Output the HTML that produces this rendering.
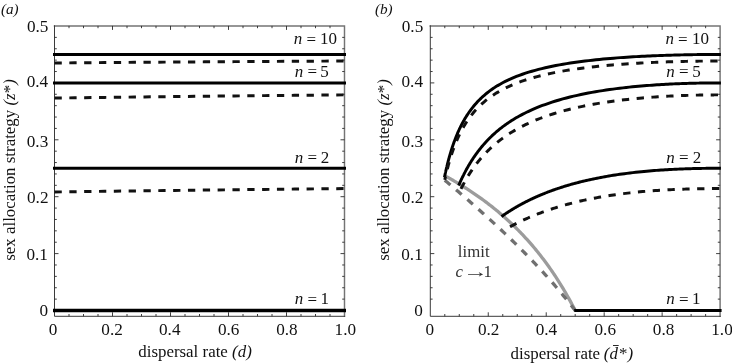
<!DOCTYPE html>
<html><head><meta charset="utf-8"><title>figure</title>
<style>html,body{margin:0;padding:0;background:#fff;}body{width:732px;height:364px;overflow:hidden;position:relative}</style></head>
<body>
<svg width="732" height="364" viewBox="0 0 732 364" style="position:absolute;left:0;top:0">
<rect width="732" height="364" fill="#fff"/>
<path d="M54.50,25.9H344.50V316.3" fill="none" stroke="#747474" stroke-width="1.45" stroke-linecap="square"/>
<path d="M54.50,25.299999999999997V316.3H345.10" fill="none" stroke="#3a3a3a" stroke-width="1.0"/>
<path d="M69.00,316.3v-2.3M69.00,25.9v2.3M83.50,316.3v-2.3M83.50,25.9v2.3M98.00,316.3v-2.3M98.00,25.9v2.3M112.50,316.3v-4.0M112.50,25.9v4.0M127.00,316.3v-2.3M127.00,25.9v2.3M141.50,316.3v-2.3M141.50,25.9v2.3M156.00,316.3v-2.3M156.00,25.9v2.3M170.50,316.3v-4.0M170.50,25.9v4.0M185.00,316.3v-2.3M185.00,25.9v2.3M199.50,316.3v-2.3M199.50,25.9v2.3M214.00,316.3v-2.3M214.00,25.9v2.3M228.50,316.3v-4.0M228.50,25.9v4.0M243.00,316.3v-2.3M243.00,25.9v2.3M257.50,316.3v-2.3M257.50,25.9v2.3M272.00,316.3v-2.3M272.00,25.9v2.3M286.50,316.3v-4.0M286.50,25.9v4.0M301.00,316.3v-2.3M301.00,25.9v2.3M315.50,316.3v-2.3M315.50,25.9v2.3M330.00,316.3v-2.3M330.00,25.9v2.3M54.50,299.12h2.3M344.50,299.12h-2.3M54.50,287.74h2.3M344.50,287.74h-2.3M54.50,276.36h2.3M344.50,276.36h-2.3M54.50,264.98h2.3M344.50,264.98h-2.3M54.50,253.60h4.0M344.50,253.60h-4.0M54.50,242.22h2.3M344.50,242.22h-2.3M54.50,230.84h2.3M344.50,230.84h-2.3M54.50,219.46h2.3M344.50,219.46h-2.3M54.50,208.08h2.3M344.50,208.08h-2.3M54.50,196.70h4.0M344.50,196.70h-4.0M54.50,185.32h2.3M344.50,185.32h-2.3M54.50,173.94h2.3M344.50,173.94h-2.3M54.50,162.56h2.3M344.50,162.56h-2.3M54.50,151.18h2.3M344.50,151.18h-2.3M54.50,139.80h4.0M344.50,139.80h-4.0M54.50,128.42h2.3M344.50,128.42h-2.3M54.50,117.04h2.3M344.50,117.04h-2.3M54.50,105.66h2.3M344.50,105.66h-2.3M54.50,94.28h2.3M344.50,94.28h-2.3M54.50,82.90h4.0M344.50,82.90h-4.0M54.50,71.52h2.3M344.50,71.52h-2.3M54.50,60.14h2.3M344.50,60.14h-2.3M54.50,48.76h2.3M344.50,48.76h-2.3M54.50,37.38h2.3M344.50,37.38h-2.3" stroke="#2a2a2a" stroke-width="0.9" fill="none"/>
<path d="M430.30,25.9H720.10V316.3" fill="none" stroke="#747474" stroke-width="1.45" stroke-linecap="square"/>
<path d="M430.30,25.299999999999997V316.3H720.70" fill="none" stroke="#3a3a3a" stroke-width="1.0"/>
<path d="M444.79,316.3v-2.3M444.79,25.9v2.3M459.28,316.3v-2.3M459.28,25.9v2.3M473.77,316.3v-2.3M473.77,25.9v2.3M488.26,316.3v-4.0M488.26,25.9v4.0M502.75,316.3v-2.3M502.75,25.9v2.3M517.24,316.3v-2.3M517.24,25.9v2.3M531.73,316.3v-2.3M531.73,25.9v2.3M546.22,316.3v-4.0M546.22,25.9v4.0M560.71,316.3v-2.3M560.71,25.9v2.3M575.20,316.3v-2.3M575.20,25.9v2.3M589.69,316.3v-2.3M589.69,25.9v2.3M604.18,316.3v-4.0M604.18,25.9v4.0M618.67,316.3v-2.3M618.67,25.9v2.3M633.16,316.3v-2.3M633.16,25.9v2.3M647.65,316.3v-2.3M647.65,25.9v2.3M662.14,316.3v-4.0M662.14,25.9v4.0M676.63,316.3v-2.3M676.63,25.9v2.3M691.12,316.3v-2.3M691.12,25.9v2.3M705.61,316.3v-2.3M705.61,25.9v2.3M430.30,299.12h2.3M720.10,299.12h-2.3M430.30,287.74h2.3M720.10,287.74h-2.3M430.30,276.36h2.3M720.10,276.36h-2.3M430.30,264.98h2.3M720.10,264.98h-2.3M430.30,253.60h4.0M720.10,253.60h-4.0M430.30,242.22h2.3M720.10,242.22h-2.3M430.30,230.84h2.3M720.10,230.84h-2.3M430.30,219.46h2.3M720.10,219.46h-2.3M430.30,208.08h2.3M720.10,208.08h-2.3M430.30,196.70h4.0M720.10,196.70h-4.0M430.30,185.32h2.3M720.10,185.32h-2.3M430.30,173.94h2.3M720.10,173.94h-2.3M430.30,162.56h2.3M720.10,162.56h-2.3M430.30,151.18h2.3M720.10,151.18h-2.3M430.30,139.80h4.0M720.10,139.80h-4.0M430.30,128.42h2.3M720.10,128.42h-2.3M430.30,117.04h2.3M720.10,117.04h-2.3M430.30,105.66h2.3M720.10,105.66h-2.3M430.30,94.28h2.3M720.10,94.28h-2.3M430.30,82.90h4.0M720.10,82.90h-4.0M430.30,71.52h2.3M720.10,71.52h-2.3M430.30,60.14h2.3M720.10,60.14h-2.3M430.30,48.76h2.3M720.10,48.76h-2.3M430.30,37.38h2.3M720.10,37.38h-2.3" stroke="#2a2a2a" stroke-width="0.9" fill="none"/>
<path d="M53.00,54.45H346.00" stroke="#000" stroke-width="2.95" fill="none"/>
<path d="M54.50,62.98 L64.50,62.90 L74.50,62.81 L84.50,62.73 L94.50,62.65 L104.50,62.57 L114.50,62.49 L124.50,62.41 L134.50,62.33 L144.50,62.26 L154.50,62.18 L164.50,62.11 L174.50,62.04 L184.50,61.97 L194.50,61.91 L204.50,61.84 L214.50,61.77 L224.50,61.71 L234.50,61.65 L244.50,61.58 L254.50,61.52 L264.50,61.46 L274.50,61.40 L284.50,61.34 L294.50,61.29 L304.50,61.23 L314.50,61.18 L324.50,61.12 L334.50,61.07 L344.50,61.02" stroke="#111" stroke-width="2.95" stroke-dasharray="7.3 7.53" fill="none"/>
<path d="M53.00,82.90H346.00" stroke="#000" stroke-width="2.95" fill="none"/>
<path d="M54.50,98.07 L64.50,97.94 L74.50,97.80 L84.50,97.67 L94.50,97.54 L104.50,97.41 L114.50,97.28 L124.50,97.16 L134.50,97.03 L144.50,96.91 L154.50,96.80 L164.50,96.68 L174.50,96.57 L184.50,96.45 L194.50,96.34 L204.50,96.23 L214.50,96.13 L224.50,96.02 L234.50,95.92 L244.50,95.82 L254.50,95.72 L264.50,95.62 L274.50,95.52 L284.50,95.42 L294.50,95.33 L304.50,95.24 L314.50,95.15 L324.50,95.06 L334.50,94.97 L344.50,94.88" stroke="#111" stroke-width="2.95" stroke-dasharray="7.3 7.53" fill="none"/>
<path d="M53.00,168.25H346.00" stroke="#000" stroke-width="2.95" fill="none"/>
<path d="M54.50,191.96 L64.50,191.82 L74.50,191.69 L84.50,191.56 L94.50,191.43 L104.50,191.30 L114.50,191.17 L124.50,191.04 L134.50,190.92 L144.50,190.79 L154.50,190.67 L164.50,190.55 L174.50,190.43 L184.50,190.31 L194.50,190.19 L204.50,190.08 L214.50,189.96 L224.50,189.85 L234.50,189.74 L244.50,189.62 L254.50,189.51 L264.50,189.41 L274.50,189.30 L284.50,189.19 L294.50,189.08 L304.50,188.98 L314.50,188.88 L324.50,188.77 L334.50,188.67 L344.50,188.57" stroke="#111" stroke-width="2.95" stroke-dasharray="7.3 7.53" fill="none"/>
<path d="M53.00,310.50H346.00" stroke="#000" stroke-width="3.3" fill="none"/>
<path d="M444.79,175.74 L445.89,176.34 L446.98,176.94 L448.08,177.55 L449.17,178.16 L450.27,178.78 L451.37,179.40 L452.46,180.03 L453.56,180.66 L454.65,181.30 L455.75,181.94 L456.84,182.59 L457.94,183.25 L459.04,183.91 L460.13,184.57 L461.23,185.25 L462.32,185.92 L463.42,186.60 L464.52,187.29 L465.61,187.99 L466.71,188.69 L467.80,189.40 L468.90,190.11 L470.00,190.83 L471.09,191.55 L472.19,192.28 L473.28,193.02 L474.38,193.77 L475.47,194.52 L476.57,195.28 L477.67,196.04 L478.76,196.81 L479.86,197.59 L480.95,198.38 L482.05,199.17 L483.15,199.97 L484.24,200.78 L485.34,201.60 L486.43,202.42 L487.53,203.25 L488.63,204.09 L489.72,204.94 L490.82,205.80 L491.91,206.66 L493.01,207.53 L494.10,208.41 L495.20,209.30 L496.30,210.20 L497.39,211.10 L498.49,212.02 L499.58,212.94 L500.68,213.88 L501.78,214.82 L502.87,215.77 L503.97,216.74 L505.06,217.71 L506.16,218.69 L507.26,219.68 L508.35,220.68 L509.45,221.70 L510.54,222.72 L511.64,223.75 L512.73,224.80 L513.83,225.86 L514.93,226.92 L516.02,228.00 L517.12,229.09 L518.21,230.19 L519.31,231.31 L520.41,232.44 L521.50,233.58 L522.60,234.73 L523.69,235.89 L524.79,237.07 L525.89,238.26 L526.98,239.46 L528.08,240.68 L529.17,241.92 L530.27,243.16 L531.36,244.42 L532.46,245.70 L533.56,246.99 L534.65,248.29 L535.75,249.62 L536.84,250.95 L537.94,252.31 L539.04,253.68 L540.13,255.06 L541.23,256.47 L542.32,257.89 L543.42,259.33 L544.52,260.78 L545.61,262.26 L546.71,263.75 L547.80,265.26 L548.90,266.79 L549.99,268.34 L551.09,269.92 L552.19,271.51 L553.28,273.12 L554.38,274.75 L555.47,276.41 L556.57,278.09 L557.67,279.79 L558.76,281.51 L559.86,283.26 L560.95,285.03 L562.05,286.83 L563.15,288.65 L564.24,290.50 L565.34,292.37 L566.43,294.27 L567.53,296.20 L568.62,298.15 L569.72,300.13 L570.82,302.15 L571.91,304.19 L573.01,306.26 L574.10,308.36 L575.20,310.50" stroke="#9c9c9c" stroke-width="3.3" fill="none"/>
<path d="M444.79,180.23 L445.89,181.15 L446.98,182.06 L448.08,182.98 L449.17,183.91 L450.27,184.83 L451.37,185.75 L452.46,186.68 L453.56,187.61 L454.65,188.54 L455.75,189.47 L456.84,190.40 L457.94,191.34 L459.04,192.28 L460.13,193.22 L461.23,194.16 L462.32,195.10 L463.42,196.04 L464.52,196.99 L465.61,197.94 L466.71,198.89 L467.80,199.84 L468.90,200.80 L470.00,201.76 L471.09,202.71 L472.19,203.68 L473.28,204.64 L474.38,205.60 L475.47,206.57 L476.57,207.54 L477.67,208.51 L478.76,209.49 L479.86,210.47 L480.95,211.45 L482.05,212.43 L483.15,213.41 L484.24,214.40 L485.34,215.39 L486.43,216.38 L487.53,217.37 L488.63,218.37 L489.72,219.37 L490.82,220.37 L491.91,221.38 L493.01,222.38 L494.10,223.40 L495.20,224.41 L496.30,225.43 L497.39,226.44 L498.49,227.47 L499.58,228.49 L500.68,229.52 L501.78,230.55 L502.87,231.59 L503.97,232.63 L505.06,233.67 L506.16,234.71 L507.26,235.76 L508.35,236.81 L509.45,237.87 L510.54,238.92 L511.64,239.99 L512.73,241.05 L513.83,242.12 L514.93,243.19 L516.02,244.27 L517.12,245.35 L518.21,246.44 L519.31,247.52 L520.41,248.62 L521.50,249.71 L522.60,250.82 L523.69,251.92 L524.79,253.03 L525.89,254.14 L526.98,255.26 L528.08,256.39 L529.17,257.51 L530.27,258.65 L531.36,259.79 L532.46,260.93 L533.56,262.08 L534.65,263.23 L535.75,264.39 L536.84,265.55 L537.94,266.72 L539.04,267.89 L540.13,269.07 L541.23,270.25 L542.32,271.45 L543.42,272.64 L544.52,273.84 L545.61,275.05 L546.71,276.27 L547.80,277.49 L548.90,278.72 L549.99,279.95 L551.09,281.19 L552.19,282.44 L553.28,283.70 L554.38,284.96 L555.47,286.23 L556.57,287.50 L557.67,288.79 L558.76,290.08 L559.86,291.38 L560.95,292.69 L562.05,294.00 L563.15,295.33 L564.24,296.66 L565.34,298.00 L566.43,299.35 L567.53,300.71 L568.62,302.08 L569.72,303.46 L570.82,304.85 L571.91,306.24 L573.01,307.65 L574.10,309.07 L575.20,310.50" stroke="#707070" stroke-width="3.3" stroke-dasharray="7.3 7.53" fill="none"/>
<path d="M444.46,177.30 L444.79,175.74 L444.89,175.28 L444.98,174.83 L445.08,174.37 L445.18,173.91 L445.28,173.44 L445.38,172.97 L445.49,172.50 L445.59,172.02 L445.70,171.55 L445.80,171.06 L445.91,170.58 L446.03,170.09 L446.14,169.60 L446.25,169.10 L446.37,168.60 L446.48,168.10 L446.60,167.59 L446.73,167.09 L446.85,166.57 L446.97,166.06 L447.10,165.53 L447.23,165.01 L447.36,164.48 L447.49,163.95 L447.62,163.41 L447.76,162.87 L447.90,162.33 L448.04,161.78 L448.18,161.23 L448.33,160.68 L448.48,160.12 L448.63,159.55 L448.78,158.98 L448.94,158.41 L449.10,157.83 L449.26,157.25 L449.42,156.67 L449.59,156.08 L449.76,155.48 L449.93,154.88 L450.10,154.28 L450.28,153.67 L450.46,153.06 L450.65,152.44 L450.84,151.81 L451.03,151.19 L451.23,150.55 L451.43,149.92 L451.63,149.27 L451.84,148.63 L452.05,147.97 L452.26,147.31 L452.48,146.65 L452.71,145.98 L452.94,145.31 L453.17,144.63 L453.41,143.94 L453.65,143.25 L453.90,142.55 L454.15,141.85 L454.41,141.14 L454.68,140.43 L454.95,139.71 L455.23,138.98 L455.51,138.25 L455.80,137.51 L456.10,136.76 L456.40,136.01 L456.71,135.25 L457.03,134.49 L457.36,133.72 L457.69,132.94 L458.03,132.15 L458.38,131.36 L458.75,130.56 L459.11,129.76 L459.49,128.95 L459.88,128.13 L460.28,127.30 L460.69,126.46 L461.12,125.62 L461.55,124.77 L462.00,123.92 L462.45,123.05 L462.93,122.18 L463.41,121.30 L463.92,120.41 L464.43,119.51 L464.96,118.61 L465.51,117.69 L466.08,116.77 L466.67,115.84 L467.27,114.90 L467.90,113.95 L468.54,113.00 L469.21,112.03 L469.91,111.05 L470.62,110.07 L471.37,109.08 L472.14,108.07 L472.94,107.06 L473.77,106.04 L474.64,105.01 L475.54,103.97 L476.48,102.91 L477.45,101.85 L478.47,100.78 L479.53,99.70 L480.65,98.61 L481.81,97.51 L483.02,96.39 L484.30,95.27 L485.63,94.14 L487.03,92.99 L488.51,91.84 L490.06,90.67 L491.70,89.50 L493.42,88.31 L495.25,87.11 L495.25,87.11 L497.65,85.62 L500.13,84.17 L502.67,82.77 L505.28,81.42 L507.97,80.11 L510.72,78.85 L513.55,77.63 L516.44,76.46 L519.40,75.33 L522.42,74.24 L525.51,73.20 L528.66,72.20 L531.88,71.23 L535.15,70.31 L538.47,69.43 L541.85,68.58 L545.28,67.77 L548.76,66.99 L552.27,66.26 L555.83,65.55 L559.41,64.88 L563.03,64.24 L566.66,63.63 L570.32,63.06 L573.99,62.51 L577.66,61.99 L581.34,61.50 L585.01,61.04 L588.67,60.60 L592.32,60.19 L595.95,59.80 L599.55,59.43 L603.12,59.09 L606.65,58.76 L610.14,58.46 L613.59,58.17 L616.98,57.90 L620.32,57.65 L623.61,57.42 L626.83,57.20 L629.99,57.00 L633.08,56.81 L636.10,56.63 L639.06,56.47 L641.94,56.32 L644.74,56.17 L647.48,56.04 L650.13,55.92 L652.72,55.81 L655.22,55.70 L657.66,55.60 L660.01,55.51 L662.30,55.43 L664.51,55.35 L666.65,55.28 L668.71,55.22 L670.71,55.16 L672.64,55.10 L674.50,55.05 L676.29,55.00 L678.02,54.96 L679.69,54.92 L681.30,54.88 L682.85,54.85 L684.34,54.81 L685.77,54.78 L687.15,54.76 L688.48,54.73 L689.75,54.71 L690.98,54.69 L692.16,54.67 L693.30,54.65 L694.39,54.64 L695.43,54.62 L696.44,54.61 L697.40,54.59 L698.33,54.58 L699.22,54.57 L700.08,54.56 L700.90,54.55 L701.69,54.54 L702.44,54.54 L703.17,54.53 L703.86,54.52 L704.53,54.52 L705.17,54.51 L705.79,54.51 L706.38,54.50 L706.94,54.50 L707.49,54.49 L708.01,54.49 L708.51,54.49 L708.99,54.48 L709.45,54.48 L709.89,54.48 L710.31,54.48 L710.71,54.47 L711.10,54.47 L711.47,54.47 L711.83,54.47 L712.17,54.47 L712.50,54.47 L712.82,54.46 L713.12,54.46 L713.41,54.46 L713.69,54.46 L713.95,54.46 L714.21,54.46 L714.45,54.46 L714.68,54.46 L714.91,54.46 L715.12,54.46 L715.33,54.46 L715.53,54.46 L715.72,54.46 L715.90,54.45 L716.07,54.45 L716.24,54.45 L716.40,54.45 L716.56,54.45 L716.70,54.45 L716.84,54.45 L716.98,54.45 L717.11,54.45 L717.23,54.45 L717.35,54.45 L717.47,54.45 L717.58,54.45 L717.68,54.45 L717.78,54.45 L717.88,54.45 L717.97,54.45 L718.06,54.45 L718.14,54.45 L718.22,54.45 L718.30,54.45 L718.38,54.45 L718.45,54.45 L718.52,54.45 L718.58,54.45 L718.65,54.45 L718.71,54.45 L718.76,54.45 L718.82,54.45 L718.87,54.45 L718.92,54.45 L718.97,54.45 L719.02,54.45 L719.06,54.45 L719.11,54.45 L719.15,54.45 L719.19,54.45 L719.23,54.45 L719.26,54.45 L719.30,54.45 L719.33,54.45 L719.36,54.45 L719.39,54.45 L719.42,54.45 L719.45,54.45 L719.48,54.45 L719.50,54.45 L719.53,54.45 L719.55,54.45 L719.57,54.45 L719.60,54.45 L719.62,54.45 L719.64,54.45 L719.66,54.45 L719.68,54.45 L719.69,54.45 L719.71,54.45 L719.73,54.45 L719.74,54.45 L719.76,54.45 L719.77,54.45 L719.78,54.45 L719.80,54.45 L719.81,54.45 L720.10,54.45 L720.90,54.45" stroke="#000" stroke-width="2.95" stroke-linejoin="round" fill="none"/>
<path d="M458.64,185.52 L459.28,184.06 L459.47,183.63 L459.65,183.21 L459.84,182.78 L460.04,182.35 L460.23,181.92 L460.43,181.49 L460.63,181.05 L460.83,180.61 L461.04,180.16 L461.24,179.72 L461.46,179.27 L461.67,178.81 L461.89,178.36 L462.11,177.90 L462.33,177.43 L462.56,176.97 L462.79,176.50 L463.02,176.03 L463.25,175.55 L463.49,175.07 L463.74,174.59 L463.98,174.10 L464.23,173.62 L464.49,173.12 L464.74,172.63 L465.01,172.13 L465.27,171.62 L465.54,171.12 L465.81,170.61 L466.09,170.09 L466.38,169.58 L466.66,169.05 L466.95,168.53 L467.25,168.00 L467.55,167.47 L467.86,166.93 L468.17,166.39 L468.48,165.85 L468.80,165.30 L469.13,164.74 L469.46,164.19 L469.80,163.63 L470.15,163.06 L470.50,162.49 L470.85,161.92 L471.21,161.34 L471.58,160.76 L471.96,160.17 L472.34,159.58 L472.73,158.98 L473.13,158.38 L473.53,157.78 L473.94,157.17 L474.36,156.55 L474.79,155.93 L475.23,155.31 L475.67,154.68 L476.12,154.05 L476.59,153.41 L477.06,152.77 L477.54,152.12 L478.03,151.46 L478.53,150.81 L479.04,150.14 L479.57,149.47 L480.10,148.80 L480.65,148.12 L481.20,147.43 L481.77,146.74 L482.36,146.04 L482.95,145.34 L483.56,144.64 L484.19,143.92 L484.83,143.20 L485.48,142.48 L486.15,141.75 L486.83,141.01 L487.54,140.27 L488.26,139.52 L488.99,138.77 L489.75,138.01 L490.53,137.24 L491.32,136.47 L492.14,135.69 L492.98,134.90 L493.84,134.11 L494.72,133.31 L495.63,132.51 L496.57,131.70 L497.53,130.88 L498.52,130.06 L499.54,129.23 L500.59,128.39 L501.67,127.55 L502.78,126.70 L503.93,125.85 L505.11,124.98 L506.33,124.11 L507.59,123.24 L508.90,122.36 L510.24,121.47 L511.63,120.57 L513.07,119.67 L514.56,118.77 L516.10,117.85 L517.69,116.93 L519.35,116.01 L521.06,115.08 L522.84,114.14 L524.69,113.20 L526.61,112.25 L528.60,111.30 L530.68,110.34 L532.84,109.38 L535.09,108.41 L537.43,107.44 L539.87,106.47 L542.42,105.49 L545.09,104.52 L545.09,104.52 L548.55,103.30 L552.05,102.14 L555.58,101.03 L559.15,99.97 L562.75,98.95 L566.37,97.98 L570.00,97.05 L573.65,96.17 L577.30,95.34 L580.96,94.54 L584.61,93.79 L588.25,93.07 L591.88,92.40 L595.48,91.76 L599.06,91.16 L602.61,90.59 L606.12,90.06 L609.59,89.56 L613.01,89.09 L616.39,88.65 L619.71,88.24 L622.98,87.85 L626.19,87.49 L629.33,87.15 L632.41,86.84 L635.42,86.54 L638.36,86.27 L641.23,86.01 L644.03,85.78 L646.75,85.56 L649.41,85.36 L651.99,85.17 L654.49,84.99 L656.92,84.83 L659.28,84.68 L661.56,84.54 L663.78,84.41 L665.92,84.29 L667.99,84.18 L669.99,84.08 L671.93,83.99 L673.80,83.90 L675.60,83.82 L677.34,83.75 L679.02,83.68 L680.64,83.62 L682.20,83.56 L683.70,83.51 L685.15,83.46 L686.54,83.41 L687.88,83.37 L689.17,83.33 L690.41,83.30 L691.60,83.27 L692.75,83.24 L693.86,83.21 L694.92,83.19 L695.94,83.16 L696.92,83.14 L697.86,83.12 L698.76,83.10 L699.63,83.09 L700.47,83.07 L701.27,83.06 L702.04,83.05 L702.77,83.03 L703.48,83.02 L704.16,83.01 L704.82,83.00 L705.44,83.00 L706.04,82.99 L706.62,82.98 L707.18,82.97 L707.71,82.97 L708.22,82.96 L708.71,82.96 L709.18,82.95 L709.63,82.95 L710.06,82.94 L710.47,82.94 L710.87,82.94 L711.25,82.93 L711.61,82.93 L711.97,82.93 L712.30,82.93 L712.62,82.92 L712.93,82.92 L713.23,82.92 L713.51,82.92 L713.79,82.92 L714.05,82.92 L714.30,82.91 L714.54,82.91 L714.77,82.91 L714.99,82.91 L715.20,82.91 L715.40,82.91 L715.60,82.91 L715.78,82.91 L715.96,82.91 L716.13,82.91 L716.30,82.91 L716.46,82.91 L716.61,82.91 L716.75,82.90 L716.89,82.90 L717.02,82.90 L717.15,82.90 L717.27,82.90 L717.39,82.90 L717.50,82.90 L717.61,82.90 L717.72,82.90 L717.81,82.90 L717.91,82.90 L718.00,82.90 L718.09,82.90 L718.17,82.90 L718.25,82.90 L718.33,82.90 L718.40,82.90 L718.47,82.90 L718.54,82.90 L718.60,82.90 L718.67,82.90 L718.73,82.90 L718.78,82.90 L718.84,82.90 L718.89,82.90 L718.94,82.90 L718.99,82.90 L719.03,82.90 L719.08,82.90 L719.12,82.90 L719.16,82.90 L719.20,82.90 L719.24,82.90 L719.27,82.90 L719.31,82.90 L719.34,82.90 L719.37,82.90 L719.40,82.90 L719.43,82.90 L719.46,82.90 L719.49,82.90 L719.51,82.90 L719.54,82.90 L719.56,82.90 L719.58,82.90 L719.60,82.90 L719.62,82.90 L719.64,82.90 L719.66,82.90 L719.68,82.90 L719.70,82.90 L719.72,82.90 L719.73,82.90 L719.75,82.90 L719.76,82.90 L719.78,82.90 L719.79,82.90 L719.80,82.90 L719.81,82.90 L719.83,82.90 L719.84,82.90 L719.85,82.90 L719.86,82.90 L719.87,82.90 L719.88,82.90 L719.89,82.90 L719.90,82.90 L719.90,82.90 L719.91,82.90 L719.92,82.90 L719.93,82.90 L719.94,82.90 L719.94,82.90 L719.95,82.90 L719.96,82.90 L720.10,82.90 L720.90,82.90" stroke="#000" stroke-width="2.95" stroke-linejoin="round" fill="none"/>
<path d="M501.44,216.58 L502.75,215.67 L503.16,215.38 L503.57,215.10 L503.99,214.81 L504.41,214.52 L504.84,214.23 L505.27,213.94 L505.70,213.65 L506.14,213.35 L506.59,213.06 L507.04,212.76 L507.50,212.46 L507.96,212.16 L508.43,211.86 L508.90,211.55 L509.38,211.25 L509.86,210.94 L510.35,210.63 L510.85,210.32 L511.35,210.01 L511.86,209.69 L512.37,209.38 L512.89,209.06 L513.42,208.74 L513.95,208.42 L514.49,208.10 L515.04,207.78 L515.59,207.45 L516.15,207.13 L516.72,206.80 L517.29,206.47 L517.87,206.14 L518.46,205.80 L519.06,205.47 L519.66,205.13 L520.28,204.79 L520.90,204.46 L521.53,204.11 L522.16,203.77 L522.81,203.43 L523.46,203.08 L524.13,202.73 L524.80,202.38 L525.48,202.03 L526.17,201.68 L526.87,201.32 L527.58,200.97 L528.30,200.61 L529.03,200.25 L529.78,199.89 L530.53,199.53 L531.29,199.16 L532.06,198.80 L532.85,198.43 L533.64,198.06 L534.45,197.69 L535.27,197.32 L536.10,196.95 L536.95,196.57 L537.80,196.20 L538.67,195.82 L539.56,195.44 L540.45,195.06 L541.36,194.68 L542.29,194.30 L543.23,193.91 L544.18,193.53 L545.15,193.14 L546.13,192.75 L547.13,192.36 L548.15,191.97 L549.18,191.58 L550.23,191.19 L551.29,190.80 L552.37,190.40 L553.47,190.01 L554.59,189.61 L555.73,189.22 L556.88,188.82 L558.06,188.42 L559.25,188.03 L560.47,187.63 L561.70,187.23 L562.96,186.83 L564.24,186.43 L565.54,186.03 L566.86,185.63 L568.21,185.23 L569.58,184.83 L570.97,184.43 L572.39,184.04 L573.83,183.64 L575.30,183.24 L576.79,182.84 L578.32,182.45 L579.86,182.05 L581.44,181.66 L583.05,181.27 L584.68,180.88 L586.34,180.49 L588.04,180.10 L589.76,179.72 L591.52,179.33 L593.31,178.95 L595.13,178.57 L596.98,178.20 L598.87,177.83 L600.80,177.46 L602.76,177.09 L604.75,176.73 L606.78,176.37 L608.85,176.01 L610.96,175.66 L613.11,175.32 L615.30,174.98 L617.52,174.64 L619.79,174.31 L622.10,173.99 L624.45,173.67 L626.85,173.36 L626.85,173.36 L629.87,172.98 L632.83,172.63 L635.73,172.30 L638.56,171.99 L641.32,171.71 L644.02,171.44 L646.65,171.20 L649.21,170.97 L651.71,170.76 L654.13,170.57 L656.49,170.39 L658.78,170.22 L661.00,170.07 L663.16,169.92 L665.25,169.79 L667.27,169.67 L669.24,169.56 L671.14,169.45 L672.97,169.36 L674.75,169.27 L676.47,169.19 L678.13,169.11 L679.73,169.04 L681.28,168.98 L682.77,168.92 L684.21,168.87 L685.61,168.82 L686.95,168.77 L688.24,168.73 L689.49,168.69 L690.69,168.66 L691.84,168.62 L692.96,168.59 L694.03,168.56 L695.06,168.54 L696.06,168.52 L697.01,168.49 L697.93,168.47 L698.82,168.46 L699.67,168.44 L700.49,168.42 L701.27,168.41 L702.03,168.40 L702.76,168.39 L703.46,168.37 L704.13,168.36 L704.77,168.35 L705.39,168.35 L705.99,168.34 L706.56,168.33 L707.11,168.32 L707.64,168.32 L708.15,168.31 L708.63,168.31 L709.10,168.30 L709.55,168.30 L709.98,168.29 L710.39,168.29 L710.79,168.29 L711.17,168.28 L711.54,168.28 L711.89,168.28 L712.22,168.28 L712.55,168.27 L712.86,168.27 L713.15,168.27 L713.44,168.27 L713.71,168.27 L713.98,168.27 L714.23,168.26 L714.47,168.26 L714.70,168.26 L714.92,168.26 L715.14,168.26 L715.34,168.26 L715.54,168.26 L715.73,168.26 L715.91,168.26 L716.08,168.26 L716.25,168.26 L716.41,168.26 L716.56,168.26 L716.70,168.25 L716.84,168.25 L716.98,168.25 L717.11,168.25 L717.23,168.25 L717.35,168.25 L717.46,168.25 L717.57,168.25 L717.68,168.25 L717.78,168.25 L717.87,168.25 L717.97,168.25 L718.06,168.25 L718.14,168.25 L718.22,168.25 L718.30,168.25 L718.37,168.25 L718.45,168.25 L718.51,168.25 L718.58,168.25 L718.64,168.25 L718.70,168.25 L718.76,168.25 L718.82,168.25 L718.87,168.25 L718.92,168.25 L718.97,168.25 L719.02,168.25 L719.06,168.25 L719.10,168.25 L719.15,168.25 L719.19,168.25 L719.22,168.25 L719.26,168.25 L719.29,168.25 L719.33,168.25 L719.36,168.25 L719.39,168.25 L719.42,168.25 L719.45,168.25 L719.48,168.25 L719.50,168.25 L719.53,168.25 L719.55,168.25 L719.57,168.25 L719.60,168.25 L719.62,168.25 L719.64,168.25 L719.66,168.25 L719.67,168.25 L719.69,168.25 L719.71,168.25 L719.72,168.25 L719.74,168.25 L719.76,168.25 L719.77,168.25 L719.78,168.25 L719.80,168.25 L719.81,168.25 L719.82,168.25 L719.83,168.25 L719.84,168.25 L719.85,168.25 L719.86,168.25 L719.87,168.25 L719.88,168.25 L719.89,168.25 L719.90,168.25 L719.91,168.25 L719.92,168.25 L719.93,168.25 L719.93,168.25 L719.94,168.25 L719.95,168.25 L719.95,168.25 L719.96,168.25 L719.96,168.25 L719.97,168.25 L719.98,168.25 L719.98,168.25 L719.99,168.25 L719.99,168.25 L719.99,168.25 L720.00,168.25 L720.00,168.25 L720.01,168.25 L720.01,168.25 L720.02,168.25 L720.02,168.25 L720.02,168.25 L720.03,168.25 L720.03,168.25 L720.03,168.25 L720.03,168.25 L720.04,168.25 L720.04,168.25 L720.04,168.25 L720.10,168.25 L720.90,168.25" stroke="#000" stroke-width="2.95" stroke-linejoin="round" fill="none"/>
<path d="M444.77,179.90 L445.16,178.14 L445.26,177.70 L445.36,177.26 L445.46,176.82 L445.56,176.37 L445.66,175.92 L445.77,175.46 L445.87,175.01 L445.98,174.55 L446.09,174.09 L446.20,173.62 L446.31,173.15 L446.43,172.68 L446.54,172.21 L446.66,171.73 L446.78,171.24 L446.90,170.76 L447.02,170.27 L447.14,169.78 L447.27,169.28 L447.40,168.78 L447.53,168.28 L447.66,167.78 L447.79,167.27 L447.93,166.75 L448.07,166.24 L448.21,165.71 L448.35,165.19 L448.49,164.66 L448.64,164.13 L448.79,163.59 L448.94,163.05 L449.09,162.51 L449.25,161.96 L449.41,161.41 L449.57,160.85 L449.74,160.29 L449.91,159.73 L450.08,159.16 L450.25,158.59 L450.43,158.01 L450.61,157.43 L450.79,156.84 L450.97,156.25 L451.16,155.65 L451.36,155.05 L451.55,154.45 L451.76,153.84 L451.96,153.23 L452.17,152.61 L452.38,151.98 L452.60,151.35 L452.82,150.72 L453.04,150.08 L453.27,149.44 L453.51,148.79 L453.75,148.13 L453.99,147.47 L454.24,146.81 L454.49,146.14 L454.75,145.46 L455.02,144.78 L455.29,144.09 L455.57,143.40 L455.85,142.70 L456.14,142.00 L456.44,141.29 L456.74,140.57 L457.05,139.85 L457.37,139.12 L457.70,138.39 L458.03,137.65 L458.37,136.90 L458.73,136.14 L459.08,135.38 L459.45,134.62 L459.83,133.84 L460.22,133.06 L460.62,132.28 L461.03,131.48 L461.45,130.68 L461.88,129.87 L462.32,129.06 L462.78,128.23 L463.25,127.40 L463.73,126.57 L464.23,125.72 L464.74,124.87 L465.27,124.01 L465.81,123.14 L466.38,122.26 L466.96,121.38 L467.55,120.48 L468.17,119.58 L468.81,118.67 L469.47,117.75 L470.16,116.82 L470.87,115.89 L471.60,114.94 L472.36,113.99 L473.15,113.03 L473.97,112.06 L474.82,111.07 L475.70,110.08 L476.62,109.08 L477.58,108.07 L478.57,107.05 L479.61,106.02 L480.70,104.98 L481.83,103.93 L483.02,102.87 L484.25,101.81 L485.55,100.72 L486.92,99.63 L488.35,98.53 L489.85,97.42 L491.43,96.30 L493.10,95.17 L494.85,94.02 L496.71,92.87 L496.71,92.87 L499.16,91.43 L501.67,90.03 L504.26,88.68 L506.92,87.37 L509.65,86.11 L512.44,84.89 L515.31,83.71 L518.24,82.57 L521.24,81.48 L524.30,80.42 L527.43,79.41 L530.62,78.43 L533.87,77.50 L537.18,76.60 L540.54,75.73 L543.95,74.91 L547.40,74.12 L550.90,73.36 L554.44,72.64 L558.01,71.95 L561.62,71.29 L565.25,70.67 L568.89,70.07 L572.56,69.50 L576.23,68.97 L579.91,68.46 L583.58,67.97 L587.25,67.52 L590.90,67.09 L594.53,66.68 L598.15,66.30 L601.73,65.93 L605.27,65.59 L608.78,65.27 L612.24,64.97 L615.66,64.69 L619.02,64.43 L622.33,64.18 L625.57,63.95 L628.76,63.74 L631.87,63.53 L634.92,63.35 L637.90,63.17 L640.81,63.01 L643.65,62.86 L646.41,62.72 L649.10,62.59 L651.71,62.47 L654.24,62.36 L656.71,62.25 L659.09,62.16 L661.40,62.07 L663.64,61.99 L665.81,61.91 L667.90,61.84 L669.93,61.77 L671.88,61.71 L673.77,61.66 L675.59,61.61 L677.34,61.56 L679.04,61.52 L680.67,61.48 L682.24,61.44 L683.75,61.41 L685.21,61.37 L686.61,61.35 L687.95,61.32 L689.25,61.29 L690.50,61.27 L691.70,61.25 L692.85,61.23 L693.96,61.21 L695.02,61.20 L696.04,61.18 L697.02,61.17 L697.97,61.16 L698.87,61.15 L699.74,61.14 L700.57,61.13 L701.37,61.12 L702.14,61.11 L702.88,61.10 L703.59,61.09 L704.27,61.09 L704.92,61.08 L705.54,61.08 L706.14,61.07 L706.72,61.07 L707.27,61.06 L707.80,61.06 L708.31,61.06 L708.80,61.05 L709.26,61.05 L709.71,61.05 L710.14,61.04 L710.55,61.04 L710.95,61.04 L711.33,61.04 L711.69,61.04 L712.04,61.03 L712.37,61.03 L712.69,61.03 L713.00,61.03 L713.29,61.03 L713.57,61.03 L713.85,61.03 L714.10,61.03 L714.35,61.02 L714.59,61.02 L714.82,61.02 L715.04,61.02 L715.25,61.02 L715.45,61.02 L715.64,61.02 L715.83,61.02 L716.01,61.02 L716.18,61.02 L716.34,61.02 L716.49,61.02 L716.64,61.02 L716.79,61.02 L716.93,61.02 L717.06,61.02 L717.18,61.02 L717.30,61.02 L717.42,61.02 L717.53,61.02 L717.64,61.02 L717.74,61.02 L717.84,61.02 L717.93,61.02 L718.02,61.02 L718.11,61.02 L718.19,61.02 L718.27,61.02 L718.35,61.02 L718.42,61.02 L718.49,61.02 L718.56,61.02 L718.62,61.02 L718.68,61.02 L718.74,61.02 L718.80,61.02 L718.85,61.02 L718.90,61.02 L718.95,61.02 L719.00,61.02 L719.05,61.02 L719.09,61.02 L719.13,61.02 L719.17,61.02 L719.21,61.02 L719.25,61.02 L719.28,61.02 L719.32,61.02 L719.35,61.02 L719.38,61.02 L719.41,61.02 L719.44,61.02 L719.47,61.02 L719.49,61.02 L719.52,61.02 L719.54,61.02 L719.57,61.02 L719.59,61.02 L719.61,61.02 L719.63,61.02 L719.65,61.02 L719.67,61.02 L719.69,61.02 L719.70,61.02 L719.72,61.02 L719.74,61.02 L719.75,61.02 L719.77,61.02 L719.78,61.02 L719.79,61.02 L719.81,61.02 L719.82,61.02 L720.10,61.02" stroke="#111" stroke-width="2.95" stroke-dasharray="7.3 7.53" stroke-dashoffset="3.8" fill="none"/>
<path d="M461.00,188.88 L461.19,188.49 L461.39,188.09 L461.59,187.69 L461.80,187.29 L462.00,186.88 L462.21,186.48 L462.42,186.07 L462.63,185.65 L462.85,185.24 L463.07,184.82 L463.29,184.40 L463.52,183.98 L463.75,183.55 L463.98,183.12 L464.22,182.69 L464.45,182.25 L464.70,181.81 L464.94,181.37 L465.19,180.93 L465.44,180.48 L465.70,180.03 L465.96,179.58 L466.22,179.12 L466.49,178.66 L466.76,178.20 L467.04,177.73 L467.32,177.26 L467.60,176.79 L467.89,176.31 L468.18,175.84 L468.48,175.35 L468.78,174.87 L469.09,174.38 L469.40,173.88 L469.72,173.39 L470.04,172.89 L470.36,172.38 L470.70,171.87 L471.03,171.36 L471.38,170.85 L471.73,170.33 L472.08,169.81 L472.45,169.28 L472.81,168.75 L473.19,168.22 L473.57,167.68 L473.96,167.14 L474.35,166.59 L474.75,166.04 L475.16,165.49 L475.58,164.93 L476.00,164.36 L476.44,163.80 L476.88,163.23 L477.33,162.65 L477.78,162.07 L478.25,161.48 L478.73,160.90 L479.21,160.30 L479.71,159.70 L480.21,159.10 L480.73,158.49 L481.25,157.88 L481.79,157.26 L482.34,156.64 L482.90,156.01 L483.47,155.38 L484.05,154.75 L484.65,154.10 L485.26,153.46 L485.88,152.81 L486.52,152.15 L487.18,151.49 L487.84,150.82 L488.53,150.15 L489.23,149.47 L489.94,148.78 L490.68,148.09 L491.43,147.40 L492.20,146.70 L492.99,145.99 L493.80,145.28 L494.63,144.56 L495.48,143.84 L496.36,143.11 L497.26,142.38 L498.18,141.64 L499.13,140.89 L500.10,140.14 L501.10,139.38 L502.13,138.61 L503.19,137.84 L504.28,137.07 L505.40,136.28 L506.56,135.50 L507.75,134.70 L508.98,133.90 L510.25,133.09 L511.55,132.28 L512.90,131.46 L514.30,130.64 L515.73,129.81 L517.22,128.97 L518.76,128.12 L520.35,127.28 L522.00,126.42 L523.70,125.56 L525.47,124.70 L527.30,123.82 L529.20,122.95 L531.17,122.07 L533.22,121.18 L535.35,120.29 L537.56,119.40 L539.86,118.50 L542.26,117.60 L544.75,116.69 L547.35,115.78 L550.06,114.88 L550.06,114.88 L553.57,113.75 L557.12,112.67 L560.70,111.63 L564.31,110.64 L567.93,109.70 L571.57,108.80 L575.22,107.94 L578.87,107.12 L582.52,106.34 L586.17,105.60 L589.80,104.90 L593.41,104.24 L597.00,103.62 L600.57,103.03 L604.10,102.47 L607.59,101.95 L611.04,101.45 L614.44,100.99 L617.79,100.56 L621.08,100.15 L624.32,99.77 L627.50,99.41 L630.61,99.08 L633.66,98.77 L636.64,98.48 L639.55,98.21 L642.38,97.96 L645.15,97.72 L647.84,97.51 L650.46,97.31 L653.01,97.12 L655.48,96.95 L657.88,96.79 L660.20,96.64 L662.46,96.50 L664.64,96.37 L666.75,96.26 L668.79,96.15 L670.76,96.05 L672.67,95.96 L674.51,95.87 L676.29,95.79 L678.00,95.72 L679.66,95.65 L681.25,95.59 L682.78,95.53 L684.26,95.48 L685.69,95.43 L687.06,95.39 L688.38,95.35 L689.65,95.31 L690.87,95.27 L692.05,95.24 L693.18,95.21 L694.26,95.19 L695.31,95.16 L696.31,95.14 L697.28,95.12 L698.20,95.10 L699.09,95.08 L699.95,95.06 L700.77,95.05 L701.56,95.04 L702.31,95.02 L703.04,95.01 L703.74,95.00 L704.41,94.99 L705.05,94.98 L705.67,94.97 L706.26,94.97 L706.83,94.96 L707.37,94.95 L707.90,94.95 L708.40,94.94 L708.88,94.94 L709.34,94.93 L709.79,94.93 L710.21,94.92 L710.62,94.92 L711.01,94.92 L711.38,94.91 L711.74,94.91 L712.09,94.91 L712.42,94.91 L712.74,94.90 L713.04,94.90 L713.33,94.90 L713.61,94.90 L713.88,94.90 L714.14,94.89 L714.39,94.89 L714.62,94.89 L714.85,94.89 L715.07,94.89 L715.27,94.89 L715.47,94.89 L715.67,94.89 L715.85,94.89 L716.03,94.89 L716.19,94.89 L716.36,94.89 L716.51,94.88 L716.66,94.88 L716.80,94.88 L716.94,94.88 L717.07,94.88 L717.20,94.88 L717.32,94.88 L717.43,94.88 L717.54,94.88 L717.65,94.88 L717.75,94.88 L717.85,94.88 L717.94,94.88 L718.03,94.88 L718.12,94.88 L718.20,94.88 L718.28,94.88 L718.35,94.88 L718.43,94.88 L718.50,94.88 L718.56,94.88 L718.63,94.88 L718.69,94.88 L718.75,94.88 L718.80,94.88 L718.86,94.88 L718.91,94.88 L718.96,94.88 L719.01,94.88 L719.05,94.88 L719.09,94.88 L719.14,94.88 L719.18,94.88 L719.21,94.88 L719.25,94.88 L719.29,94.88 L719.32,94.88 L719.35,94.88 L719.38,94.88 L719.41,94.88 L719.44,94.88 L719.47,94.88 L719.50,94.88 L719.52,94.88 L719.54,94.88 L719.57,94.88 L719.59,94.88 L719.61,94.88 L719.63,94.88 L719.65,94.88 L719.67,94.88 L719.69,94.88 L719.70,94.88 L719.72,94.88 L719.74,94.88 L719.75,94.88 L719.77,94.88 L719.78,94.88 L719.79,94.88 L719.81,94.88 L719.82,94.88 L719.83,94.88 L719.84,94.88 L719.85,94.88 L719.86,94.88 L719.87,94.88 L719.88,94.88 L719.89,94.88 L719.90,94.88 L719.91,94.88 L719.92,94.88 L719.92,94.88 L719.93,94.88 L719.94,94.88 L719.94,94.88 L719.95,94.88 L719.96,94.88 L719.96,94.88 L720.10,94.88" stroke="#111" stroke-width="2.95" stroke-dasharray="7.3 7.53" stroke-dashoffset="0" fill="none"/>
<path d="M510.00,226.82 L510.44,226.58 L510.88,226.34 L511.33,226.10 L511.78,225.86 L512.23,225.62 L512.69,225.37 L513.16,225.13 L513.63,224.88 L514.10,224.63 L514.59,224.38 L515.07,224.13 L515.56,223.88 L516.06,223.62 L516.56,223.37 L517.07,223.11 L517.59,222.86 L518.11,222.60 L518.63,222.34 L519.16,222.08 L519.70,221.81 L520.25,221.55 L520.80,221.29 L521.36,221.02 L521.92,220.75 L522.49,220.48 L523.07,220.21 L523.65,219.94 L524.24,219.67 L524.84,219.40 L525.45,219.12 L526.06,218.85 L526.68,218.57 L527.31,218.29 L527.95,218.01 L528.59,217.73 L529.24,217.44 L529.90,217.16 L530.57,216.88 L531.25,216.59 L531.94,216.30 L532.63,216.01 L533.34,215.72 L534.05,215.43 L534.77,215.14 L535.50,214.85 L536.25,214.55 L537.00,214.25 L537.76,213.96 L538.53,213.66 L539.31,213.36 L540.10,213.06 L540.91,212.76 L541.72,212.45 L542.55,212.15 L543.38,211.84 L544.23,211.54 L545.09,211.23 L545.96,210.92 L546.85,210.61 L547.75,210.30 L548.66,209.99 L549.58,209.68 L550.51,209.37 L551.46,209.05 L552.43,208.74 L553.40,208.42 L554.40,208.11 L555.40,207.79 L556.42,207.47 L557.46,207.16 L558.51,206.84 L559.58,206.52 L560.66,206.20 L561.76,205.88 L562.87,205.56 L564.01,205.24 L565.16,204.92 L566.33,204.59 L567.51,204.27 L568.72,203.95 L569.94,203.63 L571.18,203.31 L572.44,202.99 L573.72,202.67 L575.02,202.34 L576.35,202.02 L577.69,201.70 L579.05,201.38 L580.44,201.06 L581.85,200.75 L583.28,200.43 L584.73,200.11 L586.21,199.80 L587.71,199.48 L589.23,199.17 L590.79,198.86 L592.36,198.55 L593.96,198.24 L595.59,197.93 L597.24,197.63 L598.92,197.32 L600.63,197.02 L602.37,196.72 L604.14,196.43 L605.93,196.13 L607.76,195.84 L609.61,195.55 L611.50,195.27 L613.41,194.99 L615.36,194.71 L617.34,194.44 L619.35,194.17 L621.40,193.90 L623.48,193.64 L625.59,193.38 L627.74,193.13 L629.92,192.88 L632.14,192.63 L634.40,192.40 L634.40,192.40 L637.24,192.11 L640.01,191.84 L642.72,191.59 L645.37,191.36 L647.94,191.15 L650.45,190.95 L652.89,190.76 L655.27,190.59 L657.58,190.44 L659.82,190.29 L662.00,190.16 L664.11,190.03 L666.16,189.92 L668.14,189.81 L670.07,189.71 L671.93,189.62 L673.73,189.54 L675.47,189.46 L677.15,189.39 L678.78,189.32 L680.35,189.26 L681.87,189.21 L683.34,189.16 L684.75,189.11 L686.12,189.07 L687.43,189.03 L688.70,188.99 L689.93,188.96 L691.11,188.92 L692.24,188.90 L693.34,188.87 L694.39,188.85 L695.41,188.82 L696.38,188.80 L697.32,188.78 L698.23,188.77 L699.10,188.75 L699.94,188.74 L700.74,188.72 L701.52,188.71 L702.26,188.70 L702.98,188.69 L703.67,188.68 L704.33,188.67 L704.97,188.66 L705.58,188.66 L706.16,188.65 L706.73,188.64 L707.27,188.64 L707.79,188.63 L708.29,188.63 L708.77,188.62 L709.23,188.62 L709.67,188.61 L710.10,188.61 L710.51,188.61 L710.90,188.60 L711.28,188.60 L711.64,188.60 L711.98,188.60 L712.31,188.59 L712.63,188.59 L712.94,188.59 L713.23,188.59 L713.52,188.59 L713.79,188.59 L714.05,188.59 L714.29,188.58 L714.53,188.58 L714.76,188.58 L714.98,188.58 L715.19,188.58 L715.39,188.58 L715.59,188.58 L715.77,188.58 L715.95,188.58 L716.12,188.58 L716.29,188.58 L716.45,188.58 L716.60,188.58 L716.74,188.58 L716.88,188.58 L717.01,188.58 L717.14,188.57 L717.26,188.57 L717.38,188.57 L717.49,188.57 L717.60,188.57 L717.70,188.57 L717.80,188.57 L717.90,188.57 L717.99,188.57 L718.08,188.57 L718.16,188.57 L718.24,188.57 L718.32,188.57 L718.39,188.57 L718.46,188.57 L718.53,188.57 L718.60,188.57 L718.66,188.57 L718.72,188.57 L718.78,188.57 L718.83,188.57 L718.88,188.57 L718.93,188.57 L718.98,188.57 L719.03,188.57 L719.07,188.57 L719.12,188.57 L719.16,188.57 L719.20,188.57 L719.23,188.57 L719.27,188.57 L719.30,188.57 L719.34,188.57 L719.37,188.57 L719.40,188.57 L719.43,188.57 L719.46,188.57 L719.48,188.57 L719.51,188.57 L719.53,188.57 L719.56,188.57 L719.58,188.57 L719.60,188.57 L719.62,188.57 L719.64,188.57 L719.66,188.57 L719.68,188.57 L719.70,188.57 L719.71,188.57 L719.73,188.57 L719.74,188.57 L719.76,188.57 L719.77,188.57 L719.79,188.57 L719.80,188.57 L719.81,188.57 L719.82,188.57 L719.84,188.57 L719.85,188.57 L719.86,188.57 L719.87,188.57 L719.88,188.57 L719.89,188.57 L719.90,188.57 L719.90,188.57 L719.91,188.57 L719.92,188.57 L719.93,188.57 L719.93,188.57 L719.94,188.57 L719.95,188.57 L719.95,188.57 L719.96,188.57 L719.97,188.57 L719.97,188.57 L719.98,188.57 L719.98,188.57 L719.99,188.57 L719.99,188.57 L720.00,188.57 L720.00,188.57 L720.00,188.57 L720.01,188.57 L720.01,188.57 L720.02,188.57 L720.02,188.57 L720.02,188.57 L720.03,188.57 L720.03,188.57 L720.03,188.57 L720.03,188.57 L720.04,188.57 L720.04,188.57 L720.04,188.57 L720.05,188.57 L720.05,188.57 L720.10,188.57" stroke="#111" stroke-width="2.95" stroke-dasharray="7.3 7.53" stroke-dashoffset="0" fill="none"/>
<path d="M574.20,310.50H721.60" stroke="#000" stroke-width="2.9" fill="none"/>
<g font-family="'Liberation Serif', 'DejaVu Serif', serif" fill="#111"><text x="0.92" y="13.70" font-size="15.2px"><tspan font-style="italic">(a)</tspan></text>
<text x="374.98" y="13.70" font-size="15.2px"><tspan font-style="italic">(b)</tspan></text>
<text x="26.95" y="32.40" font-size="17.2px">0.5</text>
<text x="26.70" y="87.00" font-size="17.2px">0.4</text>
<text x="26.75" y="146.50" font-size="17.2px">0.3</text>
<text x="27.02" y="202.70" font-size="17.2px">0.2</text>
<text x="26.48" y="259.70" font-size="17.2px">0.1</text>
<text x="39.52" y="315.60" font-size="17.2px">0</text>
<text x="401.75" y="32.40" font-size="17.2px">0.5</text>
<text x="401.50" y="87.00" font-size="17.2px">0.4</text>
<text x="401.55" y="146.50" font-size="17.2px">0.3</text>
<text x="401.83" y="202.70" font-size="17.2px">0.2</text>
<text x="401.27" y="259.70" font-size="17.2px">0.1</text>
<text x="414.33" y="315.60" font-size="17.2px">0</text>
<text x="48.73" y="335.10" font-size="17.2px">0</text>
<text x="101.32" y="335.10" font-size="17.2px">0.2</text>
<text x="159.00" y="335.10" font-size="17.2px">0.4</text>
<text x="217.88" y="335.10" font-size="17.2px">0.6</text>
<text x="276.20" y="335.10" font-size="17.2px">0.8</text>
<text x="334.62" y="335.10" font-size="17.2px">1.0</text>
<text x="425.38" y="335.10" font-size="17.2px">0</text>
<text x="477.98" y="335.10" font-size="17.2px">0.2</text>
<text x="535.65" y="335.10" font-size="17.2px">0.4</text>
<text x="594.52" y="335.10" font-size="17.2px">0.6</text>
<text x="652.85" y="335.10" font-size="17.2px">0.8</text>
<text x="711.27" y="335.10" font-size="17.2px">1.0</text>
<text x="138.25" y="356.70" font-size="16.9px">dispersal rate <tspan font-style="italic">(d)</tspan></text>
<text x="510.50" y="359.10" font-size="16.9px">dispersal rate</text>
<text x="603.85" y="359.10" font-size="16.9px"><tspan font-style="italic">(d</tspan></text>
<text x="618.98" y="359.10" font-size="16.9px">*</text>
<text x="627.52" y="359.10" font-size="16.9px"><tspan font-style="italic">)</tspan></text>
<text x="293.77" y="44.10" font-size="17.0px"><tspan font-style="italic">n</tspan></text>
<text x="306.60" y="44.90" font-size="17.0px">=</text>
<text x="320.12" y="44.10" font-size="17.0px">10</text>
<text x="294.68" y="76.60" font-size="17.0px"><tspan font-style="italic">n</tspan></text>
<text x="307.50" y="77.40" font-size="17.0px">=</text>
<text x="320.18" y="76.60" font-size="17.0px">5</text>
<text x="294.68" y="162.60" font-size="17.0px"><tspan font-style="italic">n</tspan></text>
<text x="307.50" y="163.40" font-size="17.0px">=</text>
<text x="320.83" y="162.60" font-size="17.0px">2</text>
<text x="294.68" y="303.80" font-size="17.0px"><tspan font-style="italic">n</tspan></text>
<text x="307.50" y="304.60" font-size="17.0px">=</text>
<text x="320.50" y="303.80" font-size="17.0px">1</text>
<text x="665.38" y="44.10" font-size="17.0px"><tspan font-style="italic">n</tspan></text>
<text x="678.05" y="44.90" font-size="17.0px">=</text>
<text x="691.98" y="44.10" font-size="17.0px">10</text>
<text x="666.23" y="76.60" font-size="17.0px"><tspan font-style="italic">n</tspan></text>
<text x="679.00" y="77.40" font-size="17.0px">=</text>
<text x="692.27" y="76.60" font-size="17.0px">5</text>
<text x="666.23" y="162.60" font-size="17.0px"><tspan font-style="italic">n</tspan></text>
<text x="679.00" y="163.40" font-size="17.0px">=</text>
<text x="692.78" y="162.60" font-size="17.0px">2</text>
<text x="666.23" y="303.80" font-size="17.0px"><tspan font-style="italic">n</tspan></text>
<text x="679.00" y="304.60" font-size="17.0px">=</text>
<text x="692.00" y="303.80" font-size="17.0px">1</text>
<text x="457.85" y="257.20" font-size="16.8px" fill="#333">limit</text>
<text x="455.43" y="277.40" font-size="16.8px" fill="#333"><tspan font-style="italic">c</tspan></text>
<text x="463.20" y="276.60" font-size="16.8px" fill="#333" textLength="25.1" lengthAdjust="spacingAndGlyphs">→</text>
<text x="483.60" y="277.40" font-size="16.8px" fill="#333">1</text>
<path d="M613,345.5H618.7" stroke="#111" stroke-width="0.9"/>
<text transform="translate(15.0,170.0) rotate(-90)" text-anchor="middle" font-size="16.9px">sex allocation strategy <tspan font-style="italic">(z</tspan>*<tspan font-style="italic">)</tspan></text>
<text transform="translate(389.3,170.0) rotate(-90)" text-anchor="middle" font-size="16.9px">sex allocation strategy <tspan font-style="italic">(z</tspan>*<tspan font-style="italic">)</tspan></text></g>
</svg>
</body></html>
